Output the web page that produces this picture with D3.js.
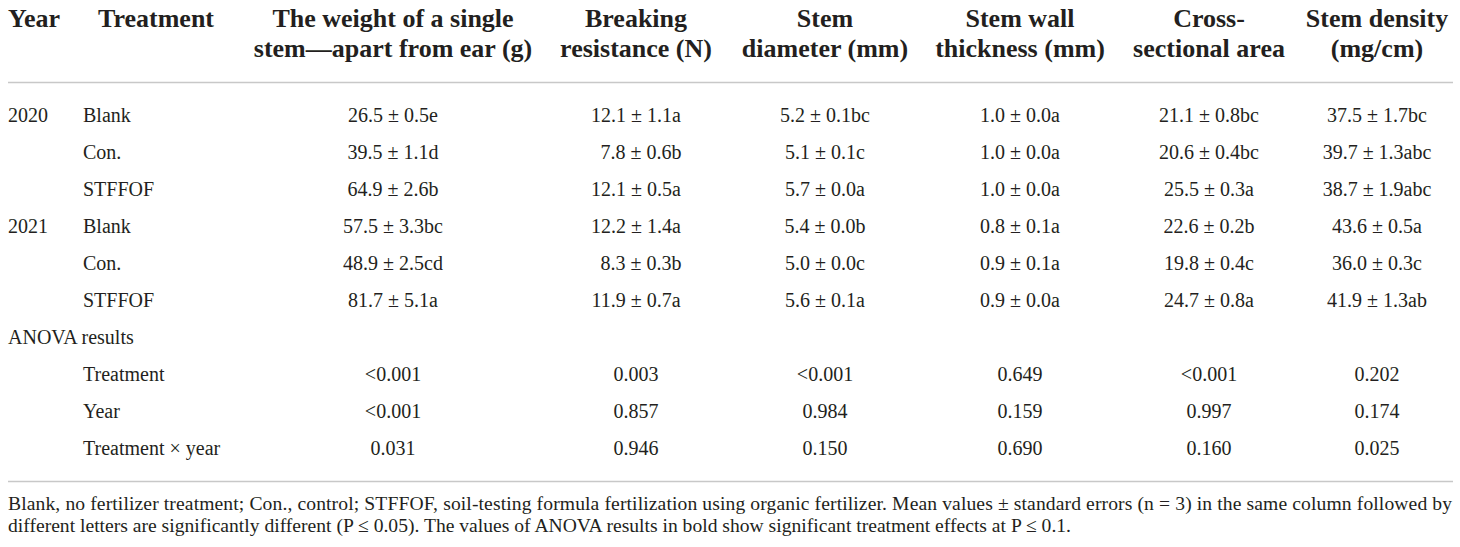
<!DOCTYPE html>
<html>
<head>
<meta charset="utf-8">
<script src="https://cdn.jsdelivr.net/npm/d3@7/dist/d3.min.js"></script>
<style>
  html, body { margin: 0; padding: 0; background: #ffffff; }
  svg { display: block; }
  text { font-family: "Liberation Serif", "Times New Roman", serif; fill: #231f20; }
</style>
</head>
<body>
<svg id="chart" width="1460" height="547"></svg>
<script>
// ---------------- DATA ----------------
const years      = ["2020", "", "", "2021", "", ""];
const treatments = ["Blank", "Con.", "STFFOF", "Blank", "Con.", "STFFOF"];

const columnKeys = ["weight", "breaking", "diameter", "wall", "cross", "density"];
const headerLines = [
  ["The weight of a single", "stem\u2014apart from ear (g)"],
  ["Breaking", "resistance (N)"],
  ["Stem", "diameter (mm)"],
  ["Stem wall", "thickness (mm)"],
  ["Cross-", "sectional area"],
  ["Stem density", "(mg/cm)"]
];

const weightMean    = [26.5, 39.5, 64.9, 57.5, 48.9, 81.7];
const weightSE      = [0.5, 1.1, 2.6, 3.3, 2.5, 5.1];
const weightLetters = ["e", "d", "b", "bc", "cd", "a"];

const breakingMean    = [12.1, 7.8, 12.1, 12.2, 8.3, 11.9];
const breakingSE      = [1.1, 0.6, 0.5, 1.4, 0.3, 0.7];
const breakingLetters = ["a", "b", "a", "a", "b", "a"];

const diameterMean    = [5.2, 5.1, 5.7, 5.4, 5.0, 5.6];
const diameterSE      = [0.1, 0.1, 0.0, 0.0, 0.0, 0.1];
const diameterLetters = ["bc", "c", "a", "b", "c", "a"];

const wallMean    = [1.0, 1.0, 1.0, 0.8, 0.9, 0.9];
const wallSE      = [0.0, 0.0, 0.0, 0.1, 0.1, 0.0];
const wallLetters = ["a", "a", "a", "a", "a", "a"];

const crossMean    = [21.1, 20.6, 25.5, 22.6, 19.8, 24.7];
const crossSE      = [0.8, 0.4, 0.3, 0.2, 0.4, 0.8];
const crossLetters = ["bc", "bc", "a", "b", "c", "a"];

const densityMean    = [37.5, 39.7, 38.7, 43.6, 36.0, 41.9];
const densitySE      = [1.7, 1.3, 1.9, 0.5, 0.3, 1.3];
const densityLetters = ["bc", "abc", "abc", "a", "c", "ab"];

const anovaLabel   = "ANOVA results";
const anovaFactors = ["Treatment", "Year", "Treatment \u00d7 year"];
const anovaTreatment = ["<0.001", "0.003", "<0.001", "0.649", "<0.001", "0.202"];
const anovaYear      = ["<0.001", "0.857", "0.984", "0.159", "0.997", "0.174"];
const anovaInter     = ["0.031", "0.946", "0.150", "0.690", "0.160", "0.025"];

const footnoteLines = [
  "Blank, no fertilizer treatment; Con., control; STFFOF, soil-testing formula fertilization using organic fertilizer. Mean values \u00b1 standard errors (n = 3) in the same column followed by",
  "different letters are significantly different (P \u2264 0.05). The values of ANOVA results in bold show significant treatment effects at P \u2264 0.1."
];

// ---------------- LAYOUT ----------------
const svg = d3.select("#chart");
const leftX = 8, rightX = 1453;
const yearX = 8, treatHeadX = 98, treatX = 83;

const colX = d3.scaleOrdinal()
  .domain(columnKeys)
  .range([393, 636, 825, 1020, 1209, 1377]);

const rowKeys = d3.range(10); // 6 data rows + ANOVA label + 3 ANOVA rows
const rowY = d3.scalePoint().domain(rowKeys).range([122, 455]);

const headY = d3.scalePoint().domain([0, 1]).range([27, 57]);

const bodySize = 20, headSize = 26, noteSize = 19.6;
const ruleColor = "#c8c8c8";

const fmt = d3.format(".1f");
const series = {
  weight:   [weightMean, weightSE, weightLetters],
  breaking: [breakingMean, breakingSE, breakingLetters],
  diameter: [diameterMean, diameterSE, diameterLetters],
  wall:     [wallMean, wallSE, wallLetters],
  cross:    [crossMean, crossSE, crossLetters],
  density:  [densityMean, densitySE, densityLetters]
};

// ---------------- HEADER ----------------
const head = svg.append("g").attr("font-weight", "bold").attr("font-size", headSize);
head.append("text").attr("x", yearX).attr("y", headY(0)).text("Year");
head.append("text").attr("x", treatHeadX).attr("y", headY(0)).text("Treatment");
columnKeys.forEach((k, i) => {
  head.selectAll(null).data(headerLines[i]).join("text")
    .attr("x", colX(k))
    .attr("y", (d, j) => headY(j))
    .attr("text-anchor", "middle")
    .text(d => d);
});

// rules
svg.append("line").attr("x1", leftX).attr("x2", rightX).attr("y1", 82.5).attr("y2", 82.5)
  .attr("stroke", ruleColor).attr("stroke-width", 1.6);
svg.append("line").attr("x1", leftX).attr("x2", rightX).attr("y1", 481.5).attr("y2", 481.5)
  .attr("stroke", ruleColor).attr("stroke-width", 1.6);

// ---------------- BODY ----------------
const body = svg.append("g").attr("font-size", bodySize);

body.selectAll("text.year").data(years).join("text")
  .attr("class", "year")
  .attr("x", yearX).attr("y", (d, i) => rowY(i)).text(d => d);

body.selectAll("text.treat").data(treatments).join("text")
  .attr("class", "treat")
  .attr("x", treatX).attr("y", (d, i) => rowY(i)).text(d => d);

columnKeys.forEach(k => {
  const [m, se, lt] = series[k];
  const maxInt = d3.max(m, v => String(Math.floor(v)).length);
  const cells = m.map((v, i) => {
    const s = fmt(v);
    const pad = "\u2007".repeat(maxInt - String(Math.floor(v)).length);
    return pad + s + " \u00b1 " + fmt(se[i]) + lt[i];
  });
  body.selectAll(null).data(cells).join("text")
    .attr("x", colX(k))
    .attr("y", (d, i) => rowY(i))
    .attr("text-anchor", "middle")
    .text(d => d);
});

// ANOVA
body.append("text").attr("x", leftX).attr("y", rowY(6)).text(anovaLabel);
body.selectAll("text.factor").data(anovaFactors).join("text")
  .attr("class", "factor")
  .attr("x", treatX).attr("y", (d, i) => rowY(7 + i)).text(d => d);

[anovaTreatment, anovaYear, anovaInter].forEach((arr, r) => {
  body.selectAll(null).data(arr).join("text")
    .attr("x", (d, i) => colX(columnKeys[i]))
    .attr("y", rowY(7 + r))
    .attr("text-anchor", "middle")
    .text(d => d);
});

// ---------------- FOOTNOTE ----------------
const note = svg.append("g").attr("font-size", noteSize);
note.append("text").attr("x", leftX).attr("y", 510)
  .attr("textLength", rightX - 1 - leftX).attr("lengthAdjust", "spacing")
  .text(footnoteLines[0]);
note.append("text").attr("x", leftX).attr("y", 532)
  .text(footnoteLines[1]);
</script>
</body>
</html>
